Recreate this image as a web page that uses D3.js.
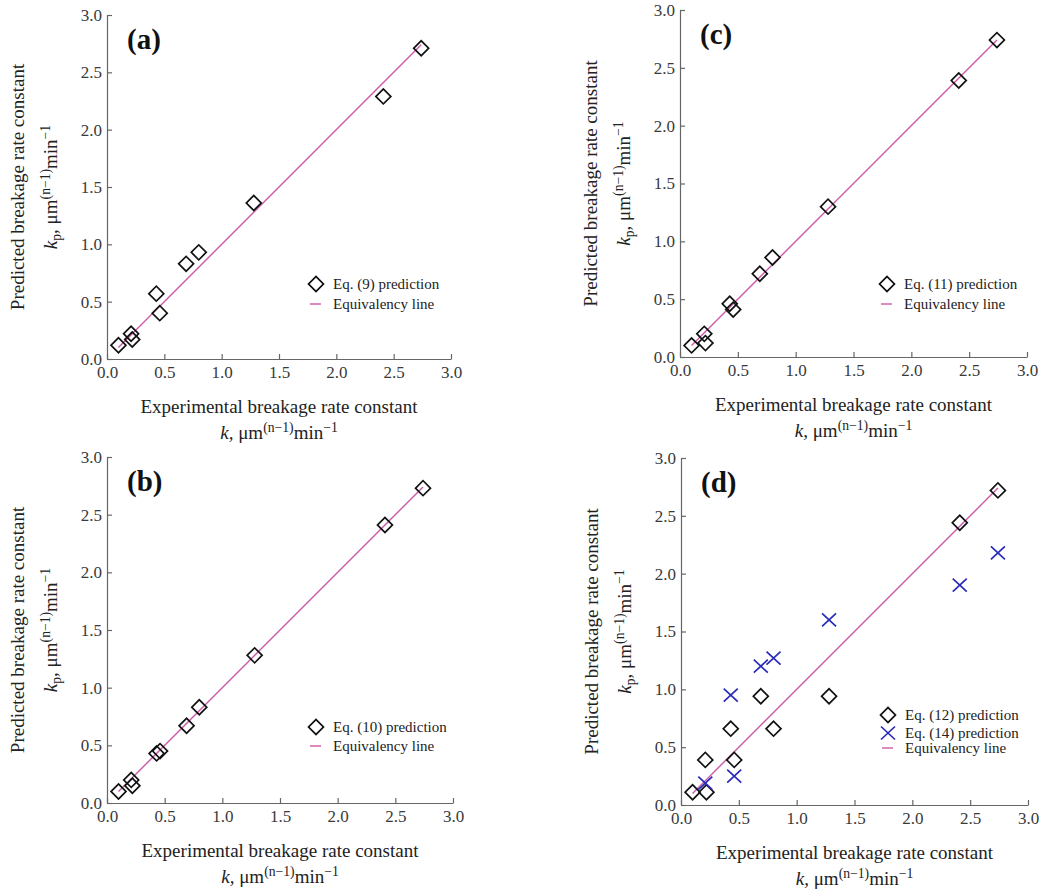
<!DOCTYPE html>
<html>
<head>
<meta charset="utf-8">
<script src="https://cdn.jsdelivr.net/npm/d3@7"></script>
<style>
body { margin: 0; background: #fff; }
svg text, svg tspan { font-family: "Liberation Serif", "Times New Roman", serif !important; }
</style>
</head>
<body>
<svg id="chart" width="1042" height="892"></svg>
<script>
const tickValues = [0, 0.5, 1.0, 1.5, 2.0, 2.5, 3.0];

// experimental breakage rate constants (x of every point)
const kExp = [0.10, 0.21, 0.22, 0.43, 0.46, 0.69, 0.80, 1.28, 2.41, 2.74];

// predicted values, same order as kExp
const predEq9 = [0.12, 0.22, 0.17, 0.57, 0.40, 0.83, 0.93, 1.36, 2.29, 2.71];
const predEq10 = [0.10, 0.20, 0.15, 0.43, 0.45, 0.67, 0.83, 1.28, 2.41, 2.73];
const predEq11 = [0.10, 0.20, 0.12, 0.46, 0.41, 0.72, 0.86, 1.30, 2.39, 2.74];
const predEq12 = [0.11, 0.39, 0.11, 0.66, 0.39, 0.94, 0.66, 0.94, 2.44, 2.72];
const predEq14 = [null, 0.19, null, 0.95, 0.25, 1.20, 1.27, 1.60, 1.90, 2.18];

const lineColor = "#cc5aa8";
const crossColor = "#2a2ab8";
const serif = "'Liberation Serif', 'Times New Roman', serif";

const panels = [
    {label: "(a)", left: 107, top: 15, size: 344,
     series: [{name: "Eq. (9) prediction", shape: "diamond", values: predEq9}],
     legend: {x: 209, y: 269, rows: [0, 20]}},
    {label: "(b)", left: 107, top: 457, size: 346,
     series: [{name: "Eq. (10) prediction", shape: "diamond", values: predEq10}],
     legend: {x: 209, y: 270, rows: [0, 19]}},
    {label: "(c)", left: 680, top: 10, size: 347,
     series: [{name: "Eq. (11) prediction", shape: "diamond", values: predEq11}],
     legend: {x: 207, y: 274, rows: [0, 20]}},
    {label: "(d)", left: 681, top: 458, size: 347,
     series: [{name: "Eq. (12) prediction", shape: "diamond", values: predEq12},
              {name: "Eq. (14) prediction", shape: "cross", values: predEq14}],
     legend: {x: 207, y: 257, rows: [0, 18, 33]}},
];

const svg = d3.select("#chart");
const diamond = d3.symbol().type(d3.symbolSquare).size(112);

function markerPath(shape) {
    if (shape === "diamond") return diamond();
    // X shape, a bit wider than tall
    return "M-7,-6.5L7,6.5M-7,6.5L7,-6.5";
}

function unitLine(sel, sym, sub) {
    sel.append("tspan").style("font-style", "italic").text(sym);
    if (sub) {
        sel.append("tspan").attr("font-size", "0.72em").attr("dy", 4).text(sub);
        sel.append("tspan").attr("dy", -4).text(", \u03BCm");
    } else {
        sel.append("tspan").style("font-style", "italic").text(",");
        sel.append("tspan").text(" \u03BCm");
    }
    sel.append("tspan").attr("font-size", "0.72em").attr("dy", -7).text("(n\u22121)");
    sel.append("tspan").attr("dy", 7).text("min");
    sel.append("tspan").attr("font-size", "0.72em").attr("dy", -7).text("\u22121");
}

function drawPanel(p) {
    const g = svg.append("g").attr("transform", `translate(${p.left},${p.top})`)
        .style("font-family", serif);
    const x = d3.scaleLinear().domain([0, 3]).range([0, p.size]);
    const y = d3.scaleLinear().domain([0, 3]).range([p.size, 0]);
    const fmt = d3.format(".1f");

    g.append("g").attr("class", "axis").attr("transform", `translate(0,${p.size})`)
        .call(d3.axisBottom(x).tickValues(tickValues).tickFormat(fmt)
            .tickSizeInner(-5).tickSizeOuter(0).tickPadding(7));
    g.append("g").attr("class", "axis")
        .call(d3.axisLeft(y).tickValues(tickValues).tickFormat(fmt)
            .tickSizeInner(-5).tickSizeOuter(0).tickPadding(5));
    g.selectAll(".axis").attr("font-family", null).style("font-family", serif);
    g.selectAll(".axis path, .axis line").attr("stroke", "#666").attr("stroke-width", 1.2);
    g.selectAll(".axis text").attr("fill", "#3a3a3a").attr("font-size", 17)
        .style("font-family", serif);

    // equivalency line
    const ext = d3.extent(kExp);
    g.append("line")
        .attr("x1", x(ext[0])).attr("y1", y(ext[0]))
        .attr("x2", x(ext[1])).attr("y2", y(ext[1]))
        .attr("stroke", lineColor).attr("stroke-width", 1.4);

    p.series.forEach(s => {
        const pts = kExp.map((k, i) => [k, s.values[i]]).filter(d => d[1] !== null);
        g.append("g").selectAll("path").data(pts).enter().append("path")
            .attr("d", markerPath(s.shape))
            .attr("transform", d => `translate(${x(d[0])},${y(d[1])})` + (s.shape === "diamond" ? " rotate(45)" : ""))
            .attr("fill", "none")
            .attr("stroke", s.shape === "diamond" ? "#111" : crossColor)
            .attr("stroke-width", 1.7);
    });

    // panel label
    g.append("text").attr("x", 20).attr("y", 34)
        .attr("font-size", 29).attr("font-weight", "bold").attr("fill", "#111")
        .text(p.label);

    // legend
    const lg = g.append("g").attr("transform", `translate(${p.legend.x},${p.legend.y})`);
    const items = p.series.map(s => ({name: s.name, shape: s.shape}))
        .concat([{name: "Equivalency line", shape: "line"}]);
    items.forEach((it, i) => {
        const row = lg.append("g").attr("transform", `translate(0,${p.legend.rows[i]})`);
        if (it.shape === "line") {
            row.append("line").attr("x1", -6).attr("x2", 5).attr("stroke", lineColor).attr("stroke-width", 1.4);
        } else {
            row.append("path").attr("d", markerPath(it.shape))
                .attr("transform", it.shape === "diamond" ? "rotate(45)" : null)
                .attr("fill", "none")
                .attr("stroke", it.shape === "diamond" ? "#111" : crossColor)
                .attr("stroke-width", 1.7);
        }
        row.append("text").attr("x", 17).attr("dy", "0.33em")
            .attr("font-size", 15).attr("fill", "#222").text(it.name);
    });

    // x axis title
    g.append("text").attr("x", p.size / 2).attr("y", p.size + 47).attr("dy", "0.35em")
        .attr("text-anchor", "middle").attr("font-size", 19).attr("fill", "#222")
        .text("Experimental breakage rate constant");
    g.append("text").attr("x", p.size / 2).attr("y", p.size + 80)
        .attr("text-anchor", "middle").attr("font-size", 19).attr("fill", "#222")
        .call(unitLine, "k", null);

    // y axis title
    g.append("text").attr("transform", `translate(-83,${p.size / 2}) rotate(-90)`)
        .attr("text-anchor", "middle").attr("font-size", 19).attr("fill", "#222")
        .text("Predicted breakage rate constant");
    g.append("text").attr("transform", `translate(-50,${p.size / 2}) rotate(-90)`)
        .attr("text-anchor", "middle").attr("font-size", 19).attr("fill", "#222")
        .call(unitLine, "k", "p");
}

panels.forEach(drawPanel);
</script>
</body>
</html>
